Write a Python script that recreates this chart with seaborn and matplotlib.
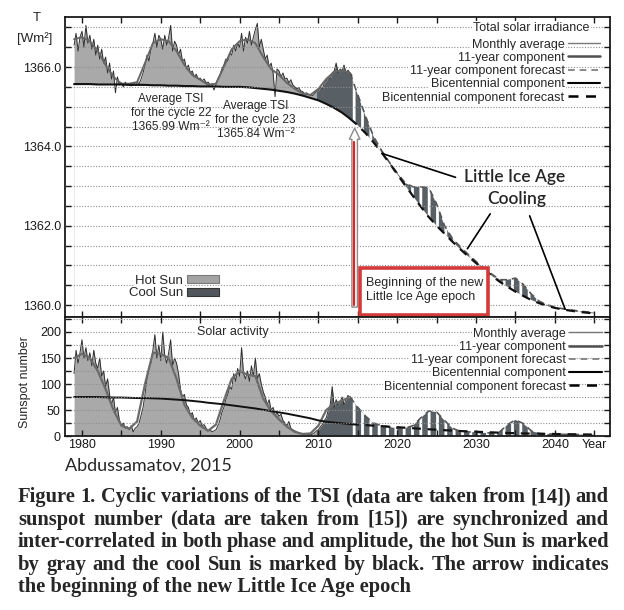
import numpy as np
import matplotlib
matplotlib.use('Agg')
import matplotlib.pyplot as plt
import seaborn as sns
from matplotlib.lines import Line2D
from matplotlib.patches import Patch, Rectangle

# yearly grid for the components, quarterly grid for the "monthly" record
years = np.arange(1979, 2046)
t_month = np.arange(1979.0, 2014.3, 0.25)
FC = 35  # index of 2014 in years -> start of forecast
CUT = 123  # index of 2009.75 in t_month -> cool Sun

tsi_bicent = [1365.57, 1365.57, 1365.57, 1365.56, 1365.56, 1365.56, 1365.56, 1365.55, 1365.55, 1365.55,
              1365.54, 1365.54, 1365.53, 1365.53, 1365.52, 1365.52, 1365.51, 1365.51, 1365.51, 1365.50,
              1365.50, 1365.50, 1365.49, 1365.47, 1365.45, 1365.43, 1365.40, 1365.37, 1365.33, 1365.28,
              1365.22, 1365.16, 1365.07, 1364.97, 1364.85, 1364.70, 1364.53, 1364.33, 1364.10, 1363.85,
              1363.58, 1363.30, 1363.02, 1362.75, 1362.48, 1362.22, 1362.00, 1361.80, 1361.60, 1361.41,
              1361.23, 1361.06, 1360.90, 1360.74, 1360.59, 1360.46, 1360.34, 1360.23, 1360.13, 1360.05,
              1359.98, 1359.93, 1359.89, 1359.86, 1359.83, 1359.81, 1359.79]

tsi_11yr = [1366.70, 1366.75, 1366.65, 1366.40, 1366.05, 1365.75, 1365.58, 1365.58, 1365.62, 1366.10,
            1366.60, 1366.70, 1366.65, 1366.40, 1366.05, 1365.80, 1365.68, 1365.55, 1365.58, 1366.00,
            1366.45, 1366.65, 1366.70, 1366.60, 1366.25, 1365.95, 1365.80, 1365.60, 1365.45, 1365.33,
            1365.30, 1365.45, 1365.70, 1365.88, 1365.92,
            1365.85, 1365.30, 1364.75, 1364.25, 1363.90, 1363.60, 1363.33, 1363.08, 1362.98, 1362.98,
            1362.96, 1362.55, 1362.00, 1361.68, 1361.47, 1361.28, 1361.10, 1360.93, 1360.78, 1360.64,
            1360.64, 1360.68, 1360.52, 1360.28, 1360.10, 1360.01, 1359.95, 1359.91, 1359.88, 1359.85,
            1359.83, 1359.81]

tsi_month = [1366.55, 1366.85, 1366.40, 1366.75, 1366.90, 1366.50, 1367.05, 1366.60,
             1366.80, 1366.45, 1366.70, 1366.30, 1366.55, 1366.20, 1366.45, 1366.10,
             1366.25, 1365.85, 1366.10, 1365.70, 1365.90, 1365.35, 1365.75, 1365.55,
             1365.60, 1365.50, 1365.62, 1365.55, 1365.58, 1365.52, 1365.60, 1365.55,
             1365.62, 1365.58, 1365.70, 1365.85, 1366.05, 1366.30, 1366.15, 1366.45,
             1366.60, 1366.85, 1366.50, 1366.80, 1366.70, 1366.45, 1366.80, 1366.55,
             1366.75, 1367.05, 1366.40, 1366.65, 1366.55, 1366.30, 1366.45, 1366.15,
             1366.20, 1365.95, 1366.05, 1365.85, 1365.90, 1365.75, 1365.82, 1365.70,
             1365.72, 1365.65, 1365.70, 1365.60, 1365.62, 1365.55, 1365.58, 1365.42,
             1365.55, 1365.70, 1365.80, 1365.95, 1366.05, 1366.20, 1366.15, 1366.35,
             1366.30, 1366.55, 1366.40, 1366.60, 1366.50, 1366.85, 1366.40, 1366.75,
             1366.60, 1366.90, 1366.55, 1366.75, 1366.95, 1367.10, 1366.50, 1366.70,
             1366.45, 1366.20, 1366.30, 1366.00, 1366.10, 1365.85, 1365.25, 1365.95,
             1365.90, 1365.75, 1365.85, 1365.70, 1365.72, 1365.60, 1365.68, 1365.55,
             1365.50, 1365.45, 1365.48, 1365.40, 1365.38, 1365.33, 1365.35, 1365.30,
             1365.30, 1365.28, 1365.32, 1365.38, 1365.40, 1365.50, 1365.45, 1365.60,
             1365.65, 1365.75, 1365.70, 1365.85, 1365.90, 1366.10, 1365.85, 1365.95,
             1365.90, 1366.05, 1365.85, 1365.92, 1365.85, 1365.80]

ssn_bicent = [75, 75, 75, 75, 74.5, 74, 74, 73.5, 73, 73, 72.5, 72, 71, 70, 69, 67.5, 66, 64, 62.5, 61,
              59, 57, 55, 53, 50.5, 48, 45.5, 43, 40, 37, 34, 30, 27.5, 26, 24.5, 23, 22, 21, 20, 19,
              18, 17, 16, 15, 14, 13, 12, 11.2, 10.4, 9.6, 8.9, 8.3, 7.6, 7, 6.4, 5.9, 5.4, 5, 4.7,
              4.4, 4.1, 3.9, 3.6, 3.4, 3.1, 2.9, 2.7]

ssn_11yr = [150, 158, 150, 125, 90, 50, 20, 14, 28, 100, 160, 158, 150, 110, 60, 35, 20, 10, 22, 68,
            110, 125, 118, 115, 72, 48, 32, 18, 8, 4, 5, 20, 50, 62, 68,
            75, 55, 38, 25, 20, 17, 15, 15, 20, 35, 48, 46, 30, 15, 9, 8, 7, 6, 6, 8, 22, 31, 24, 10,
            5, 4, 3.5, 3.2, 3, 2.8, 2.6, 2.5]

ssn_month = [120, 165, 140, 160, 185, 150, 170, 145, 160, 135, 165, 140, 130, 150, 115, 125,
             95, 110, 80, 60, 75, 45, 55, 30, 20, 25, 15, 18, 12, 20, 8, 15,
             18, 25, 40, 55, 80, 110, 130, 140, 165, 195, 150, 175, 145, 200, 155, 140,
             160, 185, 135, 150, 140, 120, 90, 75, 80, 60, 55, 40, 45, 30, 35, 25,
             30, 20, 22, 15, 10, 12, 8, 10, 12, 20, 30, 45, 55, 70, 80, 95,
             90, 120, 105, 130, 115, 170, 120, 110, 125, 105, 135, 115, 150, 110, 120, 100,
             85, 75, 60, 70, 50, 55, 40, 45, 38, 42, 30, 25, 20, 28, 15, 12,
             10, 8, 6, 5, 4, 3, 5, 3, 2, 4, 6, 10, 12, 18, 22, 30,
             35, 50, 60, 95, 55, 70, 60, 65, 75, 60, 70, 78, 75, 72]

tsi_ticks = np.arange(1360.0, 1367.5, 0.5)
tsi_labels = ['1360.0', '', '', '', '1362.0', '', '', '', '1364.0', '', '', '', '1366.0', '', '']
ssn_ticks = np.arange(0, 226, 25)
ssn_labels = ['0', '', '50', '', '100', '', '150', '', '200', '']
year_ticks = np.arange(1980, 2046, 5)
year_labels = ['1980', '', '1990', '', '2000', '', '2010', '', '2020', '', '2030', '', '2040', 'Year']

legend_labels = ['Monthly average', '11-year component', '11-year component forecast',
                 'Bicentennial component', 'Bicentennial component forecast']

caption_lines = [
    'Figure 1. Cyclic variations of the TSI (data are taken from [14]) and',
    'sunspot number (data are taken from [15]) are synchronized and',
    'inter-correlated in both phase and amplitude, the hot Sun is marked',
    'by gray and the cool Sun is marked by black. The arrow indicates',
    'the beginning of the new Little Ice Age epoch',
]

tsi_bicent = np.array(tsi_bicent)
tsi_11yr = np.array(tsi_11yr)
tsi_month = np.array(tsi_month)
ssn_bicent = np.array(ssn_bicent)
ssn_11yr = np.array(ssn_11yr)
ssn_month = np.array(ssn_month)

sns.set_style('ticks')
plt.rcParams['font.family'] = ['Liberation Sans', 'DejaVu Sans']
plt.rcParams['hatch.linewidth'] = 2.0

HOT = '#a9a9a9'
COOL = '#596065'
GRID = dict(ls=(0, (1, 1.5)), color='#8f8f8f', lw=0.8)

fig = plt.figure(figsize=(6.24, 6.10), dpi=100)
ax1 = fig.add_axes([0.1042, 0.4803, 0.8734, 0.4918])
ax2 = fig.add_axes([0.1042, 0.2852, 0.8734, 0.1951])

# ---------------- top panel: TSI ----------------
ax1.fill_between(t_month[:CUT + 1], 1359.0, tsi_month[:CUT + 1], color=HOT, lw=0, zorder=1)
ax1.fill_between(t_month[CUT:], 1359.0, tsi_month[CUT:], color=COOL, lw=0, zorder=1)
ax1.fill_between(years, 1359.0, tsi_bicent, color='white', lw=0, zorder=1.1)
ax1.fill_between(years[FC:], tsi_bicent[FC:], tsi_11yr[FC:], facecolor=COOL, edgecolor='white',
                 hatch='||', lw=0, zorder=1.2)

sns.lineplot(x=t_month, y=tsi_month, ax=ax1, color='#2e2e2e', lw=0.7, errorbar=None, zorder=2)
sns.lineplot(x=years[:FC + 1], y=tsi_11yr[:FC + 1], ax=ax1, color='#666666', lw=1.4, errorbar=None, zorder=2)
sns.lineplot(x=years[FC:], y=tsi_11yr[FC:], ax=ax1, color='#555555', lw=1.2, ls=(0, (4, 3)),
             errorbar=None, zorder=2)
sns.lineplot(x=years[:FC + 1], y=tsi_bicent[:FC + 1], ax=ax1, color='#111111', lw=1.5, errorbar=None, zorder=2)
sns.lineplot(x=years[FC:], y=tsi_bicent[FC:], ax=ax1, color='#111111', lw=1.6, ls=(0, (4, 3)),
             errorbar=None, zorder=2)

ax1.set_xlim(1977.85, 2047.0)
ax1.set_ylim(1359.7, 1367.26)
ax1.set_xticks(year_ticks)
ax1.set_xticklabels([])
ax1.set_yticks(tsi_ticks)
ax1.set_yticklabels(tsi_labels)
ax1.grid(axis='y', **GRID)
ax1.set_axisbelow(False)
ax1.set_xlabel('')
ax1.set_ylabel('')

fig.text(37 / 624, 1 - 18 / 610, 'T', ha='center', va='center', fontsize=9.5)
fig.text(35 / 624, 1 - 39 / 610, '[Wm²]', ha='center', va='center', fontsize=9.5)

handles = [Line2D([], [], color='#777777', lw=1.0),
           Line2D([], [], color='#505050', lw=1.8),
           Line2D([], [], color='#777777', lw=1.2, ls=(0, (4, 3))),
           Line2D([], [], color='black', lw=1.5),
           Line2D([], [], color='black', lw=1.8, ls=(0, (4, 3)))]
leg_kw = dict(loc='upper right', markerfirst=False, frameon=False, fontsize=9, handlelength=2.6,
              handletextpad=0.25, labelspacing=0.1, borderpad=0, borderaxespad=0)
leg1 = ax1.legend(handles, legend_labels, bbox_to_anchor=(0.982, 0.928), **leg_kw)
for t in leg1.get_texts():
    t.set_bbox(dict(fc='white', ec='none', pad=1))
ax1.text(0.963, 0.963, 'Total solar irradiance', transform=ax1.transAxes, ha='right', va='center',
         fontsize=9, zorder=5, bbox=dict(fc='white', ec='none', pad=1))

sun_handles = [Patch(fc='#a3a3a3', ec='#7a7a7a', lw=0.8), Patch(fc='#50565b', ec='#333333', lw=0.8)]
leg_sun = ax1.legend(sun_handles, ['Hot Sun', 'Cool Sun'], loc='center', bbox_to_anchor=(0.2, 0.1),
                     markerfirst=False, frameon=False, fontsize=9.5, handlelength=2.45,
                     handleheight=0.55, handletextpad=0.3, labelspacing=0.05, borderpad=0)
for t in leg_sun.get_texts():
    t.set_bbox(dict(fc='white', ec='none', pad=1))
ax1.add_artist(leg1)

ax1.text(1991.3, 1364.84, 'Average TSI\nfor the cycle 22\n1365.99 Wm⁻²', ha='center', va='center',
         fontsize=8.6, linespacing=1.2, zorder=4)
ax1.text(2002.0, 1364.66, 'Average TSI\nfor the cycle 23\n1365.84 Wm⁻²', ha='center', va='center',
         fontsize=8.6, linespacing=1.2, zorder=4)

# Little Ice Age annotation
ax1.text(2034.9, 1363.22, 'Little Ice Age', ha='center', va='center', fontsize=12.5,
         fontweight='semibold', family=['Lato', 'DejaVu Sans'], zorder=4)
ax1.text(2035.2, 1362.68, 'Cooling', ha='center', va='center', fontsize=12.5,
         fontweight='semibold', family=['Lato', 'DejaVu Sans'], zorder=4)
ax1.plot([2018.1, 2027.4], [1363.82, 1363.22], color='black', lw=1.2, zorder=3)
ax1.plot([2031.8, 2028.9], [1362.30, 1361.42], color='black', lw=1.2, zorder=3)
ax1.plot([2036.8, 2041.3], [1362.25, 1359.90], color='black', lw=1.2, zorder=3)

# arrow marking the beginning of the epoch
ax1.arrow(2014.6, 1359.95, 0, 4.51, width=0.7, head_width=1.35, head_length=0.28,
          length_includes_head=True, fc='white', ec='#8a8a8a', lw=1, zorder=3)
ax1.plot([2014.55, 2014.55], [1360.0, 1364.12], color='#e02424', lw=1.6, zorder=3.1)

ax1.add_patch(Rectangle((0.541, 0.007), 0.235, 0.156, transform=ax1.transAxes, fc='white',
                        ec='#d33a3a', lw=2.6, zorder=4, clip_on=False))
ax1.text(2016.0, 1360.38, 'Beginning of the new\nLittle Ice Age epoch', ha='left', va='center',
         fontsize=9, linespacing=1.2, zorder=5)

# ---------------- bottom panel: sunspots ----------------
ax2.fill_between(t_month[:CUT + 1], 0, ssn_month[:CUT + 1], color=HOT, lw=0, zorder=1)
ax2.fill_between(t_month[CUT:], 0, ssn_month[CUT:], color=COOL, lw=0, zorder=1)
ax2.fill_between(years[FC:], 0, ssn_11yr[FC:], facecolor=COOL, edgecolor='white', hatch='||',
                 lw=0, zorder=1.2)

sns.lineplot(x=t_month, y=ssn_month, ax=ax2, color='#2e2e2e', lw=0.7, errorbar=None, zorder=2)
sns.lineplot(x=years[:FC + 1], y=ssn_11yr[:FC + 1], ax=ax2, color='#6a6a6a', lw=1.6, errorbar=None, zorder=2)
sns.lineplot(x=years[FC:], y=ssn_11yr[FC:], ax=ax2, color='#555555', lw=1.2, ls=(0, (4, 3)),
             errorbar=None, zorder=2)
sns.lineplot(x=years[:FC + 1], y=ssn_bicent[:FC + 1], ax=ax2, color='#111111', lw=1.4, errorbar=None, zorder=2)
sns.lineplot(x=years[FC:], y=ssn_bicent[FC:], ax=ax2, color='#111111', lw=1.6, ls=(0, (4, 3)),
             errorbar=None, zorder=2)

ax2.set_xlim(1977.85, 2047.0)
ax2.set_ylim(0, 228.8)
ax2.set_xticks(year_ticks)
ax2.set_xticklabels(year_labels)
ax2.set_yticks(ssn_ticks)
ax2.set_yticklabels(ssn_labels)
ax2.grid(axis='y', **GRID)
ax2.set_axisbelow(False)
ax2.set_xlabel('')
ax2.set_ylabel('Sunspot number', fontsize=9)
ax2.yaxis.set_label_coords(-0.062, 0.45)

leg2 = ax2.legend(handles, legend_labels, bbox_to_anchor=(0.985, 0.91), **leg_kw)
for t in leg2.get_texts():
    t.set_bbox(dict(fc='white', ec='none', pad=1))

ax2.text(0.308, 0.874, 'Solar activity', transform=ax2.transAxes, ha='center', va='center',
         fontsize=9, zorder=4, bbox=dict(fc='white', ec='none', pad=1))

for ax in (ax1, ax2):
    ax.tick_params(direction='in', length=4, width=1, top=True, right=True, labelsize=9,
                   colors='#1a1a1a', pad=3)
    for s in ax.spines.values():
        s.set_linewidth(1.3)
        s.set_color('#1a1a1a')
ax2.tick_params(axis='x', pad=2)

fig.text(65 / 624, 1 - 466 / 610, 'Abdussamatov, 2015', ha='left', va='center', fontsize=13,
         family=['Lato', 'DejaVu Sans'])

# justified caption
cap_kw = dict(fontsize=14.8, fontweight='bold', family=['Liberation Serif', 'DejaVu Serif'], va='center')
fig.canvas.draw()
renderer = fig.canvas.get_renderer()
x_left, x_right = 18 / 624, 609 / 624
for i, line in enumerate(caption_lines):
    y = 1 - (497 + 22.6 * i) / 610
    if i == len(caption_lines) - 1:
        fig.text(x_left, y, line, ha='left', **cap_kw)
        continue
    words = line.split()
    objs = [fig.text(0, y, w, ha='left', **cap_kw) for w in words]
    widths = [o.get_window_extent(renderer).width / fig.bbox.width for o in objs]
    gap = (x_right - x_left - sum(widths)) / (len(words) - 1)
    x = x_left
    for o, w in zip(objs, widths):
        o.set_x(x)
        x += w + gap

plt.savefig('out.png', dpi=100)
